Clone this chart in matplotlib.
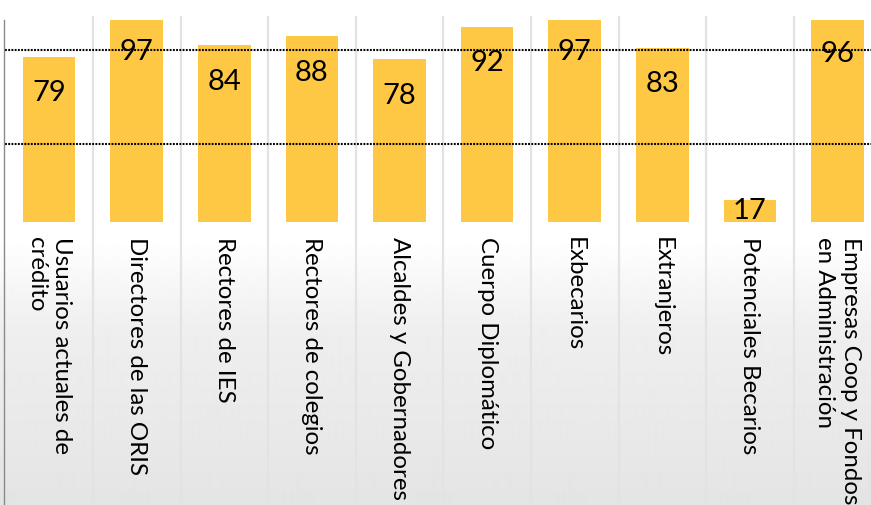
import numpy as np
import matplotlib
matplotlib.use("Agg")
import matplotlib.pyplot as plt

categories = [
    "Usuarios actuales de\ncrédito",
    "Directores de las ORIS",
    "Rectores de IES",
    "Rectores de colegios",
    "Alcaldes y Gobernadores",
    "Cuerpo Diplomático",
    "Exbecarios",
    "Extranjeros",
    "Potenciales Becarios",
    "Empresas Coop y Fondos\nen Administración",
]
values = [79, 97, 84, 88, 78, 92, 97, 83, 17, 96]
grid_levels = [41.3, 81.9]
y_min, y_max = 7.6, 95.0

W, H = 871, 505
fig = plt.figure(figsize=(W / 100, H / 100), dpi=100)

# background gradient (label area)
bg = fig.add_axes([0, 0, 1, 1], zorder=-10)
rows = np.arange(H)
shade = np.interp(rows, [0, 240, 330, 505], [1.0, 1.0, 0.935, 0.895])
img = np.repeat(shade[:, None], 2, axis=1)
bg.imshow(img, cmap="gray", vmin=0, vmax=1, aspect="auto",
          extent=[0, 1, 1, 0], interpolation="bilinear")
bg.set_xlim(0, 1)
bg.set_ylim(1, 0)
bg.axis("off")

# main axes
left_px, base_px, top_px = 5.3, 221.7, 20.0
pitch = 87.6
ax = fig.add_axes([left_px / W, (H - base_px) / H,
                   10 * pitch / W, (base_px - top_px) / H])
ax.set_facecolor("white")
x = np.arange(len(categories))
ax.bar(x, values, width=0.6, color="#FEC844", zorder=2)
ax.set_xlim(-0.5, len(categories) - 0.5)
ax.set_ylim(y_min, y_max)
for s in ax.spines.values():
    s.set_visible(False)
ax.set_xticks([])
ax.set_yticks([])

for g in grid_levels:
    ax.axhline(g, color="black", lw=1.5, linestyle=(0, (0.9, 0.65)), zorder=3)

tr = ax.get_xaxis_transform()
ext_top = 1 + 3.3 / (base_px - top_px)
for k in range(len(categories) - 1):
    ax.plot([k + 0.5, k + 0.5], [-1.6, ext_top], transform=tr,
            color="#e3e3e3", lw=1.6, clip_on=False, zorder=1)
ax.plot([-0.5 - 1.3 / pitch] * 2, [-1.6, 1.0], transform=tr,
        color="#8a8a8a", lw=1.0, clip_on=False, zorder=4)

font = "Lato"
for xi, v in zip(x, values):
    yb = max(v - 19.3, y_min + 1.2)
    ax.text(xi, yb, str(v), ha="center", va="baseline", fontsize=21,
            family=font, color="black", zorder=5)

lab_y = (base_px - 237) / (base_px - top_px)
for xi, lab in zip(x, categories):
    ax.text(xi, lab_y, lab, transform=tr, rotation=-90, ha="center",
            va="top", multialignment="left", fontsize=17.3, family=font,
            color="black", clip_on=False, linespacing=1.25)

fig.savefig("out.png", dpi=100)
